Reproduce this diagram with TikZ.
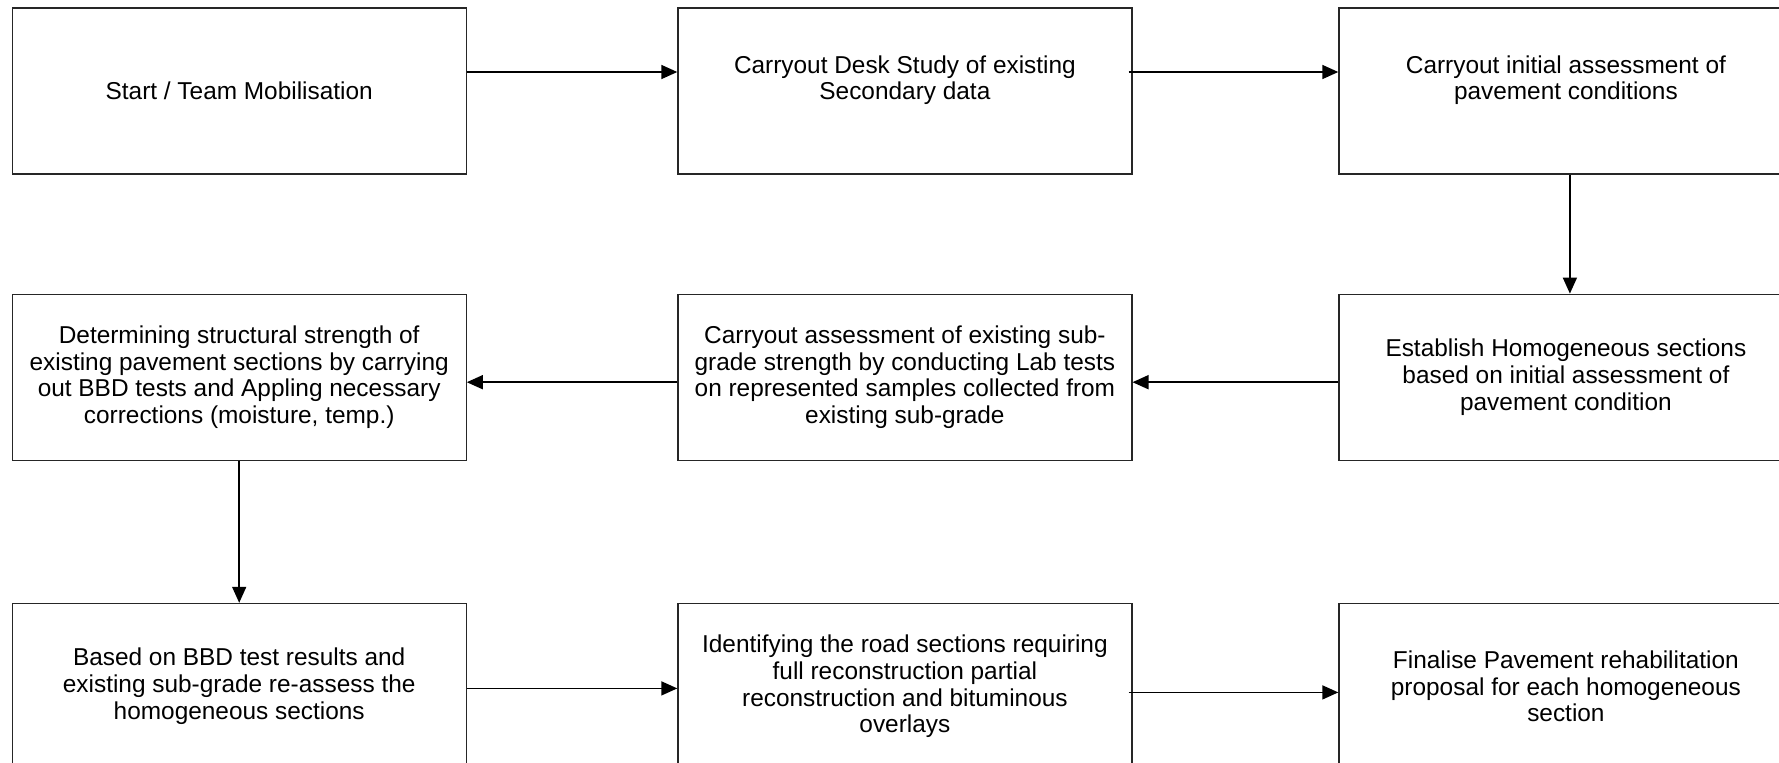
\documentclass[tikz,border=0pt]{standalone}
\usepackage{fontspec}
\setmainfont{Liberation Sans}
\usetikzlibrary{positioning, arrows.meta}
\tikzset{
->, % all connectors are directed
>={Triangle[length=8pt, width=7pt]}, % solid arrow heads
node distance=105pt, % gap between two boxes of a row
every node/.style={font=\fontsize{12.2}{13.4}\selectfont}, % Arial-like text
stage/.style={draw=black!85, line width=0.6pt, minimum width=227pt, minimum height=83pt, align=center, inner sep=2pt}, % one step of the work plan
}

\begin{document}
\begin{tikzpicture}[line width=0.8pt]
            \useasboundingbox (0,0) rectangle (889.5pt,-381pt);
            % first row, left to right
            \node[stage] (start) at (119.6pt,-45.5pt) {Start / Team Mobilisation};
            \node[stage, right=105.25pt of start] (desk) {Carryout Desk Study of existing\\ Secondary data\\ \mbox{}};
            \node[stage, right=102.9pt of desk] (initial) {Carryout initial assessment of\\ pavement conditions\\ \mbox{}};
            % second row, right to left
            \node[stage, below=59.5pt of initial] (homog) {Establish Homogeneous sections\\ based on initial assessment of\\ pavement condition};
            \node[stage, below=59.5pt of desk] (subgrade) {Carryout assessment of existing sub-\\ grade strength by conducting Lab tests\\ on represented samples collected from\\ existing sub-grade};
            \node[stage, below=59.5pt of start] (bbd) {Determining structural strength of\\ existing pavement sections by carrying\\ out BBD tests and Appling necessary\\ corrections (moisture, temp.)};
            % third row, left to right
            \node[stage, below=71pt of bbd] (reassess) {Based on BBD test results and\\ existing sub-grade re-assess the\\ homogeneous sections};
            \node[stage, right=105.25pt of reassess] (identify) {Identifying the road sections requiring\\ full reconstruction partial\\ reconstruction and bituminous\\ overlays};
            \node[stage, right=102.9pt of identify] (finalise) {Finalise Pavement rehabilitation\\ proposal for each homogeneous\\ section};
            \draw
                ([yshift=9.5pt]start.east) -- ([yshift=9.5pt]desk.west);
            \draw
                ([xshift=-2pt, yshift=9.5pt]desk.east) -- ([yshift=9.5pt]initial.west);
            \draw
                ([xshift=2pt]initial.south) -- ([xshift=2pt]homog.north);
            \draw
                ([yshift=-2.5pt]homog.west) -- ([yshift=-2.5pt]subgrade.east);
            \draw
                ([yshift=-2.5pt]subgrade.west) -- ([yshift=-2.5pt]bbd.east);
            \draw
                (bbd.south) -- (reassess.north);
            \draw
                ([yshift=-1pt]reassess.east) -- ([yshift=-1pt]identify.west);
            \draw
                ([xshift=-2pt, yshift=-3pt]identify.east) -- ([yshift=-3pt]finalise.west);
        \end{tikzpicture}
\end{document}
